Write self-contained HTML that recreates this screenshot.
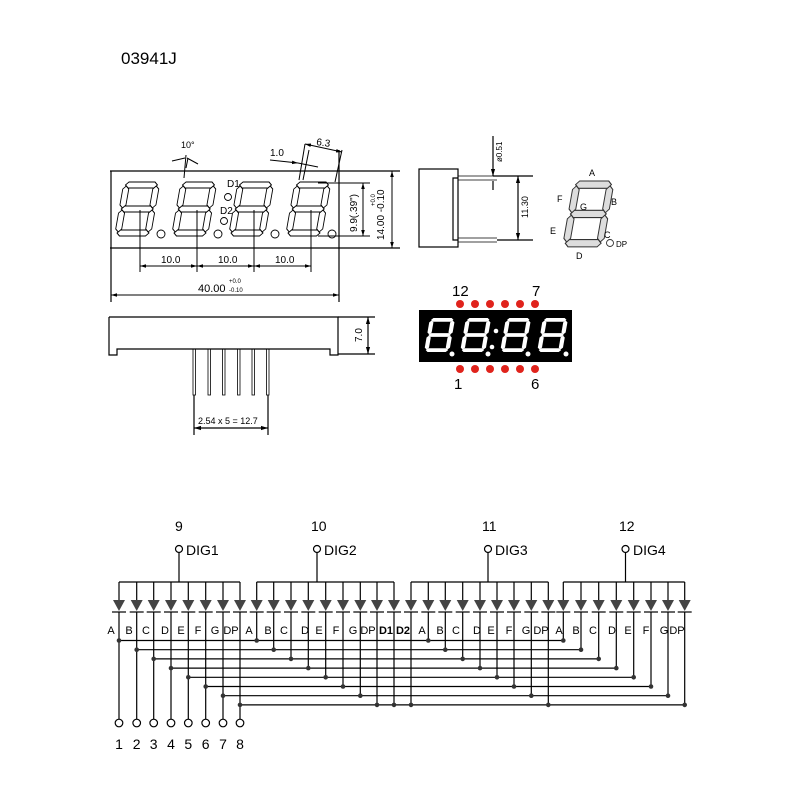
<!DOCTYPE html>
<html><head><meta charset="utf-8"><style>html,body{margin:0;padding:0;background:#fff}svg{display:block}</style></head>
<body>
<svg width="800" height="800" viewBox="0 0 800 800" xmlns="http://www.w3.org/2000/svg" font-family="Liberation Sans, sans-serif">
<defs>
<g id="dg">
<polygon points="2,3 5,0 31,0 34,3 31,6 5,6"/>
<polygon points="2,27 5,24 31,24 34,27 31,30 5,30"/>
<polygon points="2,51 5,48 31,48 34,51 31,54 5,54"/>
<polygon points="3,4 6,7 6,23 3,26 0,23 0,7"/>
<polygon points="33,4 36,7 36,23 33,26 30,23 30,7"/>
<polygon points="3,28 6,31 6,47 3,50 0,47 0,31"/>
<polygon points="33,28 36,31 36,47 33,50 30,47 30,31"/>
</g>
<g id="d">
<line x1="0" y1="0" x2="0" y2="18" stroke="#000" stroke-width="1.2"/>
<polygon points="-6,18 6,18 0,29" fill="#444"/>
<line x1="-7" y1="30" x2="7" y2="30" stroke="#000" stroke-width="1.2"/>
</g>
<marker id="ar" viewBox="0 0 10 10" refX="10" refY="5" markerWidth="6" markerHeight="6" orient="auto-start-reverse"><path d="M0,2 L10,5 L0,8z" fill="#000"/></marker>
</defs>
<rect width="800" height="800" fill="#fff"/>
<text x="121" y="64" font-size="17">03941J</text>

<!-- front view -->
<g stroke="#000" stroke-width="1.2" fill="none">
<line x1="110" y1="171" x2="400" y2="171"/>
<line x1="110" y1="248" x2="400" y2="248"/>
<line x1="111" y1="171" x2="111" y2="302"/>
<line x1="339" y1="150" x2="339" y2="302"/>
</g>
<g fill="#fff" stroke="#000" stroke-width="0.9">
<use href="#dg" transform="translate(124,182) skewX(-10)"/>
<use href="#dg" transform="translate(181,182) skewX(-10)"/>
<use href="#dg" transform="translate(238,182) skewX(-10)"/>
<use href="#dg" transform="translate(295,182) skewX(-10)"/>
<circle cx="161" cy="234" r="4"/><circle cx="218" cy="234" r="4"/><circle cx="275" cy="234" r="4"/><circle cx="332" cy="234" r="4"/>
<circle cx="228" cy="197" r="3.5"/><circle cx="224" cy="221" r="3.5"/>
</g>
<text x="227" y="187" font-size="10" font-family="Liberation Sans Narrow, Liberation Sans, sans-serif">D1</text>
<text x="220" y="214" font-size="10">D2</text>
<g stroke="#000" stroke-width="1" fill="none">
<line x1="140" y1="210" x2="140" y2="272"/><line x1="197" y1="210" x2="197" y2="272"/><line x1="254" y1="210" x2="254" y2="272"/><line x1="311" y1="210" x2="311" y2="272"/>
<line x1="140" y1="266" x2="197" y2="266" marker-start="url(#ar)" marker-end="url(#ar)"/>
<line x1="197" y1="266" x2="254" y2="266" marker-start="url(#ar)" marker-end="url(#ar)"/>
<line x1="254" y1="266" x2="311" y2="266" marker-start="url(#ar)" marker-end="url(#ar)"/>
<line x1="111" y1="295" x2="339" y2="295" marker-start="url(#ar)" marker-end="url(#ar)"/>
<line x1="318" y1="183" x2="370" y2="183"/><line x1="318" y1="236" x2="370" y2="236"/>
<line x1="363" y1="183" x2="363" y2="236" marker-start="url(#ar)" marker-end="url(#ar)"/>
<line x1="392" y1="171" x2="392" y2="248" marker-start="url(#ar)" marker-end="url(#ar)"/>
<line x1="172" y1="161" x2="185" y2="158"/><line x1="187" y1="158" x2="198" y2="164"/>
<line x1="186" y1="155" x2="184" y2="178"/><line x1="188" y1="158" x2="186" y2="168"/>
<line x1="270" y1="160" x2="298" y2="163" marker-end="url(#ar)"/><line x1="298" y1="163" x2="318" y2="167"/>
<line x1="305" y1="144" x2="299" y2="180"/><line x1="309" y1="150" x2="303" y2="180"/>
<line x1="342" y1="150" x2="335" y2="182"/>
<line x1="305" y1="144" x2="342" y2="152" marker-start="url(#ar)" marker-end="url(#ar)"/>
</g>
<g font-size="10" font-family="Liberation Sans Narrow, Liberation Sans, sans-serif">
<text x="161" y="263">10.0</text><text x="218" y="263">10.0</text><text x="275" y="263">10.0</text>
<text x="198" y="292" font-size="11">40.00</text>
<text x="229" y="283" font-size="6">+0.0</text><text x="229" y="292" font-size="6">-0.10</text>
<text x="181" y="148" font-size="9">10°</text>
<text x="270" y="156">1.0</text>
<text x="316" y="145" transform="rotate(8 316 145)">6.3</text>
<text transform="translate(357,232) rotate(-90)">9.9(.39")</text>
<text transform="translate(384,240) rotate(-90)" font-size="10">14.00 -0.10</text>
<text transform="translate(375,206) rotate(-90)" font-size="6">+0.0</text>
</g>

<!-- side view top right -->
<g stroke="#000" stroke-width="1.2" fill="none">
<rect x="419" y="169" width="39" height="78"/>
<polyline points="458,178 453,178 453,240 458,240"/>
<line x1="458" y1="176" x2="497" y2="176" stroke-width="0.8"/><line x1="458" y1="180" x2="497" y2="180" stroke-width="0.8"/>
<line x1="458" y1="238" x2="497" y2="238" stroke-width="0.8"/><line x1="458" y1="242" x2="497" y2="242" stroke-width="0.8"/>
<line x1="493" y1="176" x2="533" y2="176"/><line x1="497" y1="240" x2="533" y2="240"/>
<line x1="518" y1="176" x2="518" y2="240" marker-start="url(#ar)" marker-end="url(#ar)"/>
<line x1="493" y1="136" x2="493" y2="176" marker-end="url(#ar)"/>
<line x1="493" y1="181" x2="493" y2="190"/>
</g>
<text transform="translate(528,218) rotate(-90)" font-size="9">11.30</text>
<text transform="translate(502,162) rotate(-90)" font-size="8">ø0.51</text>

<!-- segment diagram -->
<g fill="#ddd" stroke="#333" stroke-width="0.9">
<use href="#dg" transform="translate(574,181) skewX(-10) scale(1.12,1.22)"/>
<circle cx="610" cy="243" r="3.5" fill="#fff"/>
</g>
<g font-size="9">
<text x="589" y="176">A</text><text x="557" y="202">F</text><text x="611" y="205">B</text>
<text x="580" y="210">G</text><text x="550" y="234">E</text><text x="604" y="238">C</text>
<text x="616" y="247" font-size="8">DP</text><text x="576" y="259">D</text>
</g>

<!-- black display -->
<rect x="419" y="310" width="153" height="52" fill="#000"/>
<g fill="#fff">
<use href="#dg" transform="translate(430,318) skewX(-10) scale(0.7,0.63)"/>
<use href="#dg" transform="translate(466,318) skewX(-10) scale(0.7,0.63)"/>
<use href="#dg" transform="translate(506,318) skewX(-10) scale(0.7,0.63)"/>
<use href="#dg" transform="translate(543,318) skewX(-10) scale(0.7,0.63)"/>
<circle cx="452" cy="354" r="2.5"/><circle cx="488" cy="354" r="2.5"/><circle cx="528" cy="354" r="2.5"/><circle cx="566" cy="354" r="2.5"/>
<circle cx="496" cy="331" r="2.3"/><circle cx="492" cy="347" r="2.3"/>
</g>
<g fill="#e0231c">
<circle cx="460" cy="304" r="4"/><circle cx="475" cy="304" r="4"/><circle cx="490" cy="304" r="4"/><circle cx="505" cy="304" r="4"/><circle cx="520" cy="304" r="4"/><circle cx="535" cy="304" r="4"/>
<circle cx="460" cy="369" r="4"/><circle cx="475" cy="369" r="4"/><circle cx="490" cy="369" r="4"/><circle cx="505" cy="369" r="4"/><circle cx="520" cy="369" r="4"/><circle cx="535" cy="369" r="4"/>
</g>
<g font-size="15">
<text x="452" y="296">12</text><text x="532" y="296">7</text><text x="454" y="389">1</text><text x="531" y="389">6</text>
</g>

<!-- bottom side view -->
<g stroke="#000" stroke-width="1.2" fill="none">
<polyline points="109,317 338,317 338,355 330,355 330,349 117,349 117,355 109,355 109,317"/>
<line x1="338" y1="317" x2="375" y2="317"/><line x1="338" y1="354" x2="375" y2="354"/>
<line x1="368" y1="317" x2="368" y2="354" marker-start="url(#ar)" marker-end="url(#ar)"/>
<g stroke-width="0.8">
<rect x="193" y="349" width="2.5" height="46"/><rect x="208" y="349" width="2.5" height="46"/><rect x="222.5" y="349" width="2.5" height="46"/><rect x="237.5" y="349" width="2.5" height="46"/><rect x="252" y="349" width="2.5" height="46"/><rect x="266.5" y="349" width="2.5" height="46"/>
</g>
<line x1="194" y1="395" x2="194" y2="435"/><line x1="268" y1="395" x2="268" y2="435"/>
<line x1="194" y1="428" x2="268" y2="428" marker-start="url(#ar)" marker-end="url(#ar)"/>
</g>
<text x="198" y="424" font-size="9">2.54 x 5 = 12.7</text>
<text transform="translate(362,342) rotate(-90)" font-size="10">7.0</text>

<!-- schematic -->
<g stroke="#000" stroke-width="1.2" fill="none">
<line x1="119" y1="582" x2="240" y2="582"/>
<line x1="256.7" y1="582" x2="394" y2="582"/>
<line x1="411" y1="582" x2="548.3" y2="582"/>
<line x1="563.3" y1="582" x2="684.7" y2="582"/>
<line x1="179" y1="552" x2="179" y2="582"/><circle cx="179" cy="549" r="3.5" fill="#fff"/>
<line x1="317" y1="552" x2="317" y2="582"/><circle cx="317" cy="549" r="3.5" fill="#fff"/>
<line x1="488" y1="552" x2="488" y2="582"/><circle cx="488" cy="549" r="3.5" fill="#fff"/>
<line x1="625.5" y1="552" x2="625.5" y2="582"/><circle cx="625.5" cy="549" r="3.5" fill="#fff"/>
<!-- group1 stems -->
<line x1="119" y1="612" x2="119" y2="719"/><line x1="136.7" y1="612" x2="136.7" y2="719"/><line x1="153.7" y1="612" x2="153.7" y2="719"/><line x1="171" y1="612" x2="171" y2="719"/><line x1="188.3" y1="612" x2="188.3" y2="719"/><line x1="205.7" y1="612" x2="205.7" y2="719"/><line x1="223" y1="612" x2="223" y2="719"/><line x1="240" y1="612" x2="240" y2="719"/>
<!-- group2 stems -->
<line x1="256.7" y1="612" x2="256.7" y2="640.5"/><line x1="273.7" y1="612" x2="273.7" y2="649.7"/><line x1="291" y1="612" x2="291" y2="658.9"/><line x1="308.3" y1="612" x2="308.3" y2="668.1"/><line x1="325.7" y1="612" x2="325.7" y2="677.3"/><line x1="343" y1="612" x2="343" y2="686.5"/><line x1="360.3" y1="612" x2="360.3" y2="695.7"/><line x1="377" y1="612" x2="377" y2="704.9"/><line x1="394" y1="612" x2="394" y2="704.9"/>
<!-- group3 stems -->
<line x1="411" y1="612" x2="411" y2="704.9"/><line x1="428.3" y1="612" x2="428.3" y2="640.5"/><line x1="445.3" y1="612" x2="445.3" y2="649.7"/><line x1="462.7" y1="612" x2="462.7" y2="658.9"/><line x1="480" y1="612" x2="480" y2="668.1"/><line x1="497" y1="612" x2="497" y2="677.3"/><line x1="514" y1="612" x2="514" y2="686.5"/><line x1="531.3" y1="612" x2="531.3" y2="695.7"/><line x1="548.3" y1="612" x2="548.3" y2="704.9"/>
<!-- group4 stems -->
<line x1="563.3" y1="612" x2="563.3" y2="640.5"/><line x1="581" y1="612" x2="581" y2="649.7"/><line x1="598.7" y1="612" x2="598.7" y2="658.9"/><line x1="616.3" y1="612" x2="616.3" y2="668.1"/><line x1="633.7" y1="612" x2="633.7" y2="677.3"/><line x1="651" y1="612" x2="651" y2="686.5"/><line x1="668" y1="612" x2="668" y2="695.7"/><line x1="684.7" y1="612" x2="684.7" y2="704.9"/>
<!-- rows -->
<line x1="119" y1="640.5" x2="563.3" y2="640.5"/>
<line x1="136.7" y1="649.7" x2="581" y2="649.7"/>
<line x1="153.7" y1="658.9" x2="598.7" y2="658.9"/>
<line x1="171" y1="668.1" x2="616.3" y2="668.1"/>
<line x1="188.3" y1="677.3" x2="633.7" y2="677.3"/>
<line x1="205.7" y1="686.5" x2="651" y2="686.5"/>
<line x1="223" y1="695.7" x2="668" y2="695.7"/>
<line x1="240" y1="704.9" x2="684.7" y2="704.9"/>
<!-- pin circles -->
<g fill="#fff"><circle cx="119" cy="723" r="3.8"/><circle cx="136.7" cy="723" r="3.8"/><circle cx="153.7" cy="723" r="3.8"/><circle cx="171" cy="723" r="3.8"/><circle cx="188.3" cy="723" r="3.8"/><circle cx="205.7" cy="723" r="3.8"/><circle cx="223" cy="723" r="3.8"/><circle cx="240" cy="723" r="3.8"/></g>
</g>
<g>
<use href="#d" x="119" y="582"/><use href="#d" x="136.7" y="582"/><use href="#d" x="153.7" y="582"/><use href="#d" x="171" y="582"/><use href="#d" x="188.3" y="582"/><use href="#d" x="205.7" y="582"/><use href="#d" x="223" y="582"/><use href="#d" x="240" y="582"/>
<use href="#d" x="256.7" y="582"/><use href="#d" x="273.7" y="582"/><use href="#d" x="291" y="582"/><use href="#d" x="308.3" y="582"/><use href="#d" x="325.7" y="582"/><use href="#d" x="343" y="582"/><use href="#d" x="360.3" y="582"/><use href="#d" x="377" y="582"/><use href="#d" x="394" y="582"/>
<use href="#d" x="411" y="582"/><use href="#d" x="428.3" y="582"/><use href="#d" x="445.3" y="582"/><use href="#d" x="462.7" y="582"/><use href="#d" x="480" y="582"/><use href="#d" x="497" y="582"/><use href="#d" x="514" y="582"/><use href="#d" x="531.3" y="582"/><use href="#d" x="548.3" y="582"/>
<use href="#d" x="563.3" y="582"/><use href="#d" x="581" y="582"/><use href="#d" x="598.7" y="582"/><use href="#d" x="616.3" y="582"/><use href="#d" x="633.7" y="582"/><use href="#d" x="651" y="582"/><use href="#d" x="668" y="582"/><use href="#d" x="684.7" y="582"/>
</g>
<g fill="#333">
<circle cx="119" cy="640.5" r="2.3"/><circle cx="256.7" cy="640.5" r="2.3"/><circle cx="428.3" cy="640.5" r="2.3"/><circle cx="563.3" cy="640.5" r="2.3"/>
<circle cx="136.7" cy="649.7" r="2.3"/><circle cx="273.7" cy="649.7" r="2.3"/><circle cx="445.3" cy="649.7" r="2.3"/><circle cx="581" cy="649.7" r="2.3"/>
<circle cx="153.7" cy="658.9" r="2.3"/><circle cx="291" cy="658.9" r="2.3"/><circle cx="462.7" cy="658.9" r="2.3"/><circle cx="598.7" cy="658.9" r="2.3"/>
<circle cx="171" cy="668.1" r="2.3"/><circle cx="308.3" cy="668.1" r="2.3"/><circle cx="480" cy="668.1" r="2.3"/><circle cx="616.3" cy="668.1" r="2.3"/>
<circle cx="188.3" cy="677.3" r="2.3"/><circle cx="325.7" cy="677.3" r="2.3"/><circle cx="497" cy="677.3" r="2.3"/><circle cx="633.7" cy="677.3" r="2.3"/>
<circle cx="205.7" cy="686.5" r="2.3"/><circle cx="343" cy="686.5" r="2.3"/><circle cx="514" cy="686.5" r="2.3"/><circle cx="651" cy="686.5" r="2.3"/>
<circle cx="223" cy="695.7" r="2.3"/><circle cx="360.3" cy="695.7" r="2.3"/><circle cx="531.3" cy="695.7" r="2.3"/><circle cx="668" cy="695.7" r="2.3"/>
<circle cx="240" cy="704.9" r="2.3"/><circle cx="377" cy="704.9" r="2.3"/><circle cx="394" cy="704.9" r="2.3"/><circle cx="411" cy="704.9" r="2.3"/><circle cx="548.3" cy="704.9" r="2.3"/><circle cx="684.7" cy="704.9" r="2.3"/>
</g>
<g font-size="11" text-anchor="middle">
<text x="111" y="634">A</text><text x="129" y="634">B</text><text x="146" y="634">C</text><text x="165" y="634">D</text><text x="181" y="634">E</text><text x="198" y="634">F</text><text x="215" y="634">G</text><text x="231" y="634">DP</text>
<text x="249" y="634">A</text><text x="268" y="634">B</text><text x="284" y="634">C</text><text x="305" y="634">D</text><text x="319" y="634">E</text><text x="336" y="634">F</text><text x="353" y="634">G</text><text x="368" y="634">DP</text><text x="386" y="634" font-weight="bold">D1</text>
<text x="403" y="634" font-weight="bold">D2</text><text x="422" y="634">A</text><text x="440" y="634">B</text><text x="456" y="634">C</text><text x="477" y="634">D</text><text x="491" y="634">E</text><text x="509" y="634">F</text><text x="526" y="634">G</text><text x="541" y="634">DP</text>
<text x="559" y="634">A</text><text x="576" y="634">B</text><text x="593" y="634">C</text><text x="612" y="634">D</text><text x="628" y="634">E</text><text x="646" y="634">F</text><text x="664" y="634">G</text><text x="677" y="634">DP</text>
</g>
<g font-size="14" text-anchor="middle">
<text x="119" y="749">1</text><text x="136.7" y="749">2</text><text x="153.7" y="749">3</text><text x="171" y="749">4</text><text x="188.3" y="749">5</text><text x="205.7" y="749">6</text><text x="223" y="749">7</text><text x="240" y="749">8</text>
</g>
<g font-size="14">
<text x="175" y="531">9</text><text x="186" y="555">DIG1</text>
<text x="311" y="531">10</text><text x="324" y="555">DIG2</text>
<text x="482" y="531">11</text><text x="495" y="555">DIG3</text>
<text x="619" y="531">12</text><text x="633" y="555">DIG4</text>
</g>
</svg>
</body></html>
